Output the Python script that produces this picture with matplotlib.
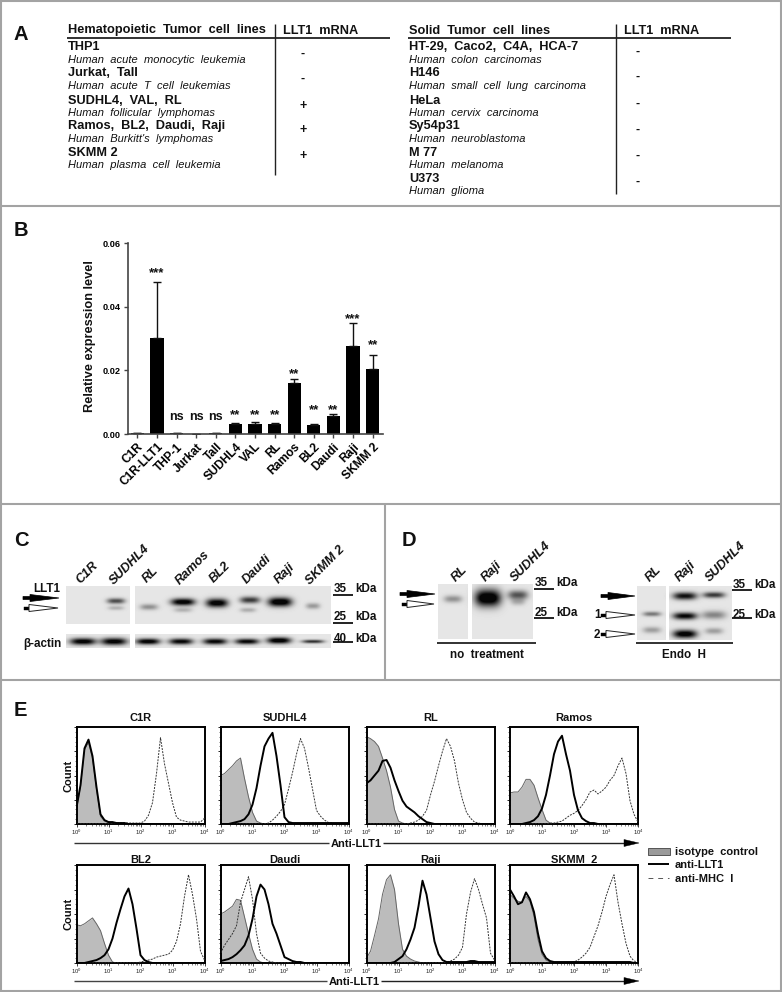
import numpy as np
import matplotlib
matplotlib.use("Agg")
import matplotlib.pyplot as plt
from matplotlib.patches import Polygon, Rectangle
from matplotlib.ticker import AutoMinorLocator, NullFormatter
from matplotlib.transforms import ScaledTranslation

plt.rcParams['font.family'] = ['Liberation Sans', 'DejaVu Sans']
W, H = 782, 992

# ---------- Panel A ----------
HEME_NAMES = ['THP1', 'Jurkat,  TaII', 'SUDHL4,  VAL,  RL', 'Ramos,  BL2,  Daudi,  Raji', 'SKMM 2']
HEME_DESC = ['Human  acute  monocytic  leukemia', 'Human  acute  T  cell  leukemias',
             'Human  follicular  lymphomas', "Human  Burkitt's  lymphomas", 'Human  plasma  cell  leukemia']
HEME_MRNA = ['-', '-', '+', '+', '+']
SOLID_NAMES = ['HT-29,  Caco2,  C4A,  HCA-7', 'H146', 'HeLa', 'Sy54p31', 'M 77', 'U373']
SOLID_DESC = ['Human  colon  carcinomas', 'Human  small  cell  lung  carcinoma', 'Human  cervix  carcinoma',
              'Human  neuroblastoma', 'Human  melanoma', 'Human  glioma']
SOLID_MRNA = ['-', '-', '-', '-', '-', '-']

# ---------- Panel B ----------
CELL_LINES = ['C1R', 'C1R-LLT1', 'THP-1', 'Jurkat', 'TaII', 'SUDHL4', 'VAL', 'RL', 'Ramos', 'BL2', 'Daudi', 'Raji', 'SKMM 2']
EXPR = [0.0002, 0.0302, 0.0002, 0.0001, 0.0002, 0.0030, 0.0031, 0.0032, 0.0160, 0.0028, 0.0057, 0.0278, 0.0203]
EXPR_ERR = [0, 0.0175, 0, 0, 0, 0.0006, 0.0007, 0.0004, 0.0012, 0.0003, 0.0006, 0.0071, 0.0047]
SIG = ['', '***', 'ns', 'ns', 'ns', '**', '**', '**', '**', '**', '**', '***', '**']
SIG_Y = [0, 0.0505, 0.0055, 0.0055, 0.0055, 0.0058, 0.0058, 0.0058, 0.0188, 0.0076, 0.0076, 0.0362, 0.0279]

# ---------- Panels C/D: blot bands (x, y, half-width, half-height, strength) ----------
C_BANDS = [(116, 601, 9, 2.8, .6), (116, 608, 8, 2.2, .2), (149, 607, 9, 3.0, .33),
           (183, 602, 12, 3.6, .98), (183, 610, 9, 2.4, .2), (217, 603, 11, 4.4, .98),
           (250, 600, 10, 3.4, .68), (248, 610, 8, 2.4, .22), (280, 602, 12, 4.6, 1.05), (313, 606, 7, 3.0, .3)]
C_ACTIN = [(83, 641.5, 13, 3.4, .95), (114, 641.5, 13, 3.6, .95), (148, 641.5, 12, 3.0, .95), (181, 641.5, 12, 3.0, .9),
           (215, 641.5, 12, 3.0, .9), (247, 641.5, 12, 2.8, .9), (279, 640.5, 12, 3.2, 1.0), (313, 641.5, 11, 1.8, .7)]
D1_BANDS = [(453, 599, 9, 3.6, .33), (488, 598, 13, 8.5, 1.1), (518, 595, 10, 4.6, .58), (518, 602, 7, 3.4, .2)]
D2_BANDS = [(652, 614, 9, 2.4, .43), (652, 630, 9, 3.2, .28), (685, 596, 12, 3.8, .85), (685, 616, 12, 3.6, .9),
            (685, 634, 12, 4.2, .98), (714, 595, 11, 3.0, .68), (714, 615, 12, 4.2, .38), (714, 631, 9, 3.2, .28)]

# ---------- Panel E: histograms (log10 fluorescence grid, % of frame height) ----------
LOG_GRID = [0, .125, .25, .375, .5, .625, .75, .875, 1, 1.125, 1.25, 1.375, 1.5, 1.625, 1.75, 1.875, 2,
            2.125, 2.25, 2.375, 2.5, 2.625, 2.75, 2.875, 3, 3.125, 3.25, 3.375, 3.5, 3.625, 3.75, 3.875, 4]
HIST_NAMES = ['C1R', 'SUDHL4', 'RL', 'Ramos', 'BL2', 'Daudi', 'Raji', 'SKMM  2']

C1R_ISO = [15, 38, 76, 84, 68, 36, 8, 3, 1.5, 1, 1]
C1R_LLT1 = [17, 40, 78, 87, 70, 38, 10, 4, 2, 2, 1, 1, 1]
C1R_MHC = [0, 0, 0, 0, 0, 0, 0, 0, 1, 1, 1, 1, 1, 1, 1, 1, 1, 3, 9, 22, 52, 89, 62, 42, 22, 7, 4, 3, 2, 2, 2, 2, 6]
SUD_ISO = [50, 52, 56, 60, 65, 68, 47, 28, 12, 3, 1]
SUD_LLT1 = [0, 0, 0, 1, 2, 3, 5, 10, 20, 37, 60, 80, 88, 94, 70, 40, 7, 2, 1, 1, 1, 1, 1, 1, 1, 1, 1, 1, 1, 1, 1, 1, 1]
SUD_MHC = [0, 0, 0, 0, 0, 0, 0, 0, 0, 0, 0, 0, 1, 4, 8, 13, 20, 36, 53, 72, 88, 78, 58, 36, 14, 8, 4, 1.5, 1]
RL_ISO = [90, 88, 85, 80, 68, 55, 38, 15, 3, 1]
RL_LLT1 = [42, 45, 50, 55, 65, 66, 58, 45, 34, 24, 18, 15, 12, 8, 5, 2, 1]
RL_MHC = [0, 0, 0, 0, 0, 0, 0, 0, 0, 0, 0, 1, 2, 4, 8, 14, 30, 44, 60, 75, 88, 80, 65, 42, 25, 12, 6, 2, 1]
RAM_ISO = [32, 33, 33, 38, 46, 46, 40, 27, 15, 4, 1]
RAM_LLT1 = [0, 0, 0, 0, 1, 2, 4, 8, 16, 30, 50, 72, 85, 91, 72, 55, 30, 14, 6, 3, 1, 1]
RAM_MHC = [0, 0, 0, 0, 0, 0, 0, 0, 0, 0, 1, 1, 2, 3, 6, 9, 11, 14, 19, 25, 33, 35, 31, 34, 38, 45, 50, 60, 68, 52, 24, 10, 2]
BL2_ISO = [39, 38, 40, 43, 46, 40, 33, 20, 8, 1]
BL2_LLT1 = [0, 0, 0, 1, 2, 3, 5, 8, 14, 25, 41, 55, 68, 76, 60, 35, 8, 3, 1]
BL2_MHC = [0, 0, 0, 0, 0, 0, 0, 0, 0, 0, 0, 0, 0, 0, 0, 0, 1, 2, 3, 4, 6, 7, 8, 9, 13, 22, 40, 68, 90, 70, 45, 12, 3]
DAU_ISO = [50, 52, 55, 58, 65, 64, 47, 30, 14, 4, 1]
DAU_LLT1 = [2, 3, 4, 6, 9, 13, 18, 28, 45, 68, 80, 75, 60, 40, 30, 18, 6, 4, 2, 1, 1]
DAU_MHC = [10, 18, 24, 30, 38, 62, 75, 88, 65, 30, 10, 5, 2, 1]
RAJ_ISO = [5, 12, 28, 45, 70, 85, 90, 75, 40, 14, 7, 4, 2, 1]
RAJ_LLT1 = [0, 0, 0, 0, 0, 0, 0, 1, 4, 7, 14, 24, 36, 58, 84, 70, 46, 22, 9, 3, 1, 1, 1, 1, 1, 1, 2, 2, 1, 1, 1, 1, 1]
RAJ_MHC = [0, 0, 0, 0, 0, 0, 0, 0, 0, 0, 0, 0, 0, 0, 0, 0, 0, 0, 0, 0, 1, 2, 4, 8, 16, 50, 72, 86, 75, 60, 46, 10, 3]
SKM_ISO = [70, 66, 63, 62, 68, 63, 48, 24, 9, 3, 1]
SKM_LLT1 = [75, 68, 60, 62, 72, 65, 52, 30, 12, 5, 2, 1, 1, 1, 1, 1, 1, 1, 1, 1, 1, 1, 1, 1, 1, 1, 1, 1, 1, 1, 1]
SKM_MHC = [0, 0, 0, 0, 0, 0, 0, 0, 0, 0, 0, 0, 0, 0, 0, 0, 1, 3, 6, 10, 16, 27, 38, 52, 68, 80, 90, 62, 40, 20, 7, 2, 1]
HIST_ISO = [C1R_ISO, SUD_ISO, RL_ISO, RAM_ISO, BL2_ISO, DAU_ISO, RAJ_ISO, SKM_ISO]
HIST_LLT1 = [C1R_LLT1, SUD_LLT1, RL_LLT1, RAM_LLT1, BL2_LLT1, DAU_LLT1, RAJ_LLT1, SKM_LLT1]
HIST_MHC = [C1R_MHC, SUD_MHC, RL_MHC, RAM_MHC, BL2_MHC, DAU_MHC, RAJ_MHC, SKM_MHC]

# ---------- figure ----------
fig = plt.figure(figsize=(W / 100, H / 100), dpi=100)
ov = fig.add_axes([0, 0, 1, 1], zorder=5)
ov.set_xlim(0, W); ov.set_ylim(H, 0); ov.axis('off'); ov.patch.set_alpha(0)


def box(l, t, r, b, **kw):
    return fig.add_axes([l / W, 1 - b / H, (r - l) / W, (b - t) / H], **kw)


def T(x, y, s, size=8.5, weight='normal', style='normal', ha='left', va='center_baseline', rot=0, color='#111111'):
    return ov.text(x, y, s, fontsize=size, fontweight=weight, fontstyle=style, ha=ha, va=va,
                   rotation=rot, rotation_mode='anchor', color=color)


def L(x0, y0, x1, y1, lw=1.0, color='#222222', **kw):
    ov.plot([x0, x1], [y0, y1], color=color, lw=lw, solid_capstyle='butt', **kw)


# frames
GR = '#a3a3a3'
for a in [(1, 0, 1, 991), (781, 0, 781, 991), (0, 1, 782, 1), (0, 991, 782, 991), (0, 205.5, 782, 205.5),
          (0, 504, 782, 504), (0, 680, 782, 680), (384.5, 504, 384.5, 680)]:
    L(*a, lw=1.5, color=GR)

for s, x, y in [('A', 14, 32), ('B', 14, 228), ('C', 14, 538), ('D', 402, 538), ('E', 14, 709)]:
    T(x, y, s, size=14.5, weight='bold')


# Panel A
def table(x, xm, xv, xs, head, names, desc, mrna, name_y, desc_y, sign_y, vend, rule_end):
    T(x, 29, head, size=9.2, weight='bold')
    T(xm, 29, 'LLT1  mRNA', size=9.2, weight='bold')
    L(x - 1, 38, rule_end, 38, lw=1.3)
    L(xv, 24, xv, vend, lw=1.0)
    for n, d, m, ny, dy, sy in zip(names, desc, mrna, name_y, desc_y, sign_y):
        T(x, ny, n, size=9.2, weight='bold')
        T(x, dy, d, size=8.0, style='italic')
        T(xs, sy, m, size=9, weight='bold', ha='center')


table(67.5, 283, 275, 303, 'Hematopoietic  Tumor  cell  lines', HEME_NAMES, HEME_DESC, HEME_MRNA,
      [46, 72, 99, 125, 151], [59, 85, 112, 138, 164], [52, 77, 104, 129, 155], 175, 390)
table(409, 624, 616, 638, 'Solid  Tumor  cell  lines', SOLID_NAMES, SOLID_DESC, SOLID_MRNA,
      [46, 72, 99, 125, 151, 177], [59, 85, 112, 138, 164, 190], [50, 75, 102, 128, 154, 180], 194, 731)

# Panel B
axb = box(127.7, 243.3, 383, 434)
xb = np.arange(len(CELL_LINES))
axb.bar(xb, EXPR, width=0.68, color='black',
        yerr=[np.zeros(len(EXPR)), EXPR_ERR], error_kw=dict(ecolor='#111111', elinewidth=1, capsize=3, capthick=1))
axb.set_xlim(-0.495, 12.53); axb.set_ylim(0, 0.06)
axb.set_yticks([0, .02, .04, .06]); axb.set_yticklabels(['0.00', '0.02', '0.04', '0.06'], fontsize=6.6, fontweight='bold')
axb.set_xticks(xb)
axb.set_xticklabels(CELL_LINES, rotation=45, ha='right', rotation_mode='anchor', fontsize=8.6, fontweight='bold')
shift = ScaledTranslation(3 / 100, -1 / 100, fig.dpi_scale_trans)
for lab in axb.get_xticklabels():
    lab.set_transform(lab.get_transform() + shift)
axb.tick_params(axis='both', length=3, width=1, color='#444444', pad=2)
for s in ['top', 'right']:
    axb.spines[s].set_visible(False)
for s in ['left', 'bottom']:
    axb.spines[s].set_linewidth(1.2); axb.spines[s].set_color('#444444')
T(88, 336, 'Relative expression level', size=9.2, weight='bold', ha='center', rot=90)
for x, s, y in zip(xb, SIG, SIG_Y):
    axb.text(x, y, s, ha='center', va='center', fontsize=(9 if s == 'ns' else 9.5), fontweight='bold', color='#111111')


# Blots
def blot(x0, x1, y0, y1, bands, bg=0.9):
    xs = np.arange(x0, x1) + 0.5
    ys = np.arange(y0, y1) + 0.5
    X, Y = np.meshgrid(xs, ys)
    img = np.zeros_like(X, dtype=float)
    for cx, cy, sx, sy, a in bands:
        img += a * np.exp(-np.abs((X - cx) / sx) ** 3 - ((Y - cy) / sy) ** 2)
    img = np.clip(bg - img, 0.02, 1)
    ov.imshow(img, cmap='gray', vmin=0, vmax=1, extent=[x0, x1, y1, y0], aspect='auto', zorder=1, interpolation='bilinear')


blot(66, 130, 586, 624, C_BANDS)
blot(135, 331, 586, 624, C_BANDS)
blot(66, 130, 634, 648, C_ACTIN)
blot(135, 331, 634, 648, C_ACTIN)
blot(438, 468, 584, 639, D1_BANDS)
blot(472, 533, 584, 639, D1_BANDS)
blot(637, 666, 586, 640, D2_BANDS)
blot(669, 732, 586, 640, D2_BANDS)
ov.set_xlim(0, W); ov.set_ylim(H, 0)


def arrow_black(x0, x1, y):
    ov.add_patch(Polygon([(x0, y - 1.5), (x0 + 7, y - 1.5), (x0 + 7, y - 3.5), (x1, y), (x0 + 7, y + 3.5), (x0 + 7, y + 1.5), (x0, y + 1.5)],
                         closed=True, fc='black', ec='black', lw=.5, zorder=6))


def arrow_white(x0, x1, y):
    ov.add_patch(Rectangle((x0, y - 1.5), 5, 3, fc='black', ec='black', lw=.3, zorder=6))
    ov.add_patch(Polygon([(x0 + 5, y - 3.5), (x1, y), (x0 + 5, y + 3.5)], closed=True, fc='white', ec='#222222', lw=.7, zorder=6))


def kda(x, y_line, y_text, num):
    L(x, y_line, x + 20, y_line, lw=1.4)
    T(x + 1, y_text, num, size=8.4, weight='bold')
    T(x + 22, y_text, 'kDa', size=8.4, weight='bold')


def lane(s, x, y):
    T(x, y, s, size=9.2, weight='bold', style='italic', rot=45, va='center')


for s, x, y in [('C1R', 78, 582), ('SUDHL4', 112, 583), ('RL', 145, 581), ('Ramos', 178, 583), ('BL2', 212, 581),
                ('Daudi', 245, 582), ('Raji', 277, 582), ('SKMM 2', 308, 583)]:
    lane(s, x, y)
T(33, 588, 'LLT1', size=8.4, weight='bold')
T(23, 642, 'β-actin', size=8.4, weight='bold')
arrow_black(23, 59, 598); arrow_white(24, 58, 608)
kda(333, 595, 588, '35'); kda(333, 623, 616, '25'); kda(333, 642, 637, '40')

for s, x, y in [('RL', 454, 580), ('Raji', 484, 580), ('SUDHL4', 513, 580), ('RL', 648, 580), ('Raji', 678, 580), ('SUDHL4', 708, 580)]:
    lane(s, x, y)
arrow_black(400, 435, 594); arrow_white(402, 434, 604)
kda(534, 589, 582, '35'); kda(534, 618, 612, '25')
L(437, 643, 536, 643, lw=1.3); T(487, 653, 'no  treatment', size=8.4, weight='bold', ha='center')
arrow_black(601, 635, 596); arrow_white(601, 635, 615); arrow_white(601, 635, 634)
T(594, 614, '1', size=8.4, weight='bold'); T(594, 633, '2', size=8.4, weight='bold')
kda(732, 590, 583, '35'); kda(732, 618, 613, '25')
L(636, 643, 733, 643, lw=1.3); T(684, 653, 'Endo  H', size=8.4, weight='bold', ha='center')

# Panel E
HIST_L = [76.5, 220.5, 366.5, 510]
ROWS = [(727, 824, 717), (865, 963, 859)]
logx = 10.0 ** np.array(LOG_GRID)


def pad(v):
    return np.array(list(v) + [0] * (len(LOG_GRID) - len(v)), dtype=float)


for i, name in enumerate(HIST_NAMES):
    l = HIST_L[i % 4]
    t, b, ty = ROWS[i // 4]
    ax = box(l, t, l + 128, b)
    iso = pad(HIST_ISO[i]); ll = pad(HIST_LLT1[i]); mh = pad(HIST_MHC[i])
    ax.fill_between(logx, 0, iso, color='#bcbcbc', lw=0, zorder=1)
    ax.plot(logx, iso, color='#666666', lw=0.7, zorder=2)
    ax.plot(logx, mh, color='#333333', lw=0.7, ls=(0, (2, 1.2)), zorder=3)
    ax.plot(logx, ll, color='black', lw=1.4, zorder=4)
    ax.set_xscale('log'); ax.set_xlim(1, 1e4); ax.set_ylim(0, 100)
    ax.set_xticks([1, 10, 100, 1000, 10000])
    ax.tick_params(axis='x', which='major', labelsize=4.2, length=2.5, width=.6, pad=0.5, colors='#222222')
    ax.tick_params(axis='x', which='minor', length=1.2, width=.4, color='#222222')
    ax.xaxis.set_minor_formatter(NullFormatter())
    ax.set_yticks([0, 25, 50, 75, 100]); ax.set_yticklabels([])
    ax.yaxis.set_minor_locator(AutoMinorLocator(5))
    ax.tick_params(axis='y', which='major', length=2.5, width=.6)
    ax.tick_params(axis='y', which='minor', length=1.2, width=.4)
    for s in ax.spines.values():
        s.set_linewidth(1.4)
    T(l + 64, ty, name, size=8, weight='bold', ha='center')
    if i % 4 == 0:
        T(67.5, (t + b) / 2, 'Count', size=8, weight='bold', ha='center', rot=90)

for y, xc, lc in [(843, 356, '#333333'), (981, 354, '#444444')]:
    L(74, y, xc - 27, y, lw=1.0, color=lc)
    L(xc + 27, y, 625, y, lw=1.0)
    ov.add_patch(Polygon([(624, y - 3.5), (639, y), (624, y + 3.5)], closed=True, fc='black', ec='black', lw=.3, zorder=6))
    T(xc, y, 'Anti-LLT1', size=8, weight='bold', ha='center')

ov.add_patch(Rectangle((648, 847.5), 22, 7, fc='#9a9a9a', ec='#555555', lw=.7))
L(648, 864, 669, 864, lw=1.4, color='black')
ov.plot([648, 669], [878, 878], color='#555555', lw=.7, ls=(0, (5, 5)))
T(675, 851, 'isotype  control', size=8, weight='bold')
T(675, 864, 'anti-LLT1', size=8, weight='bold')
T(675, 878, 'anti-MHC  I', size=8, weight='bold')

fig.savefig('out.png', dpi=100)
